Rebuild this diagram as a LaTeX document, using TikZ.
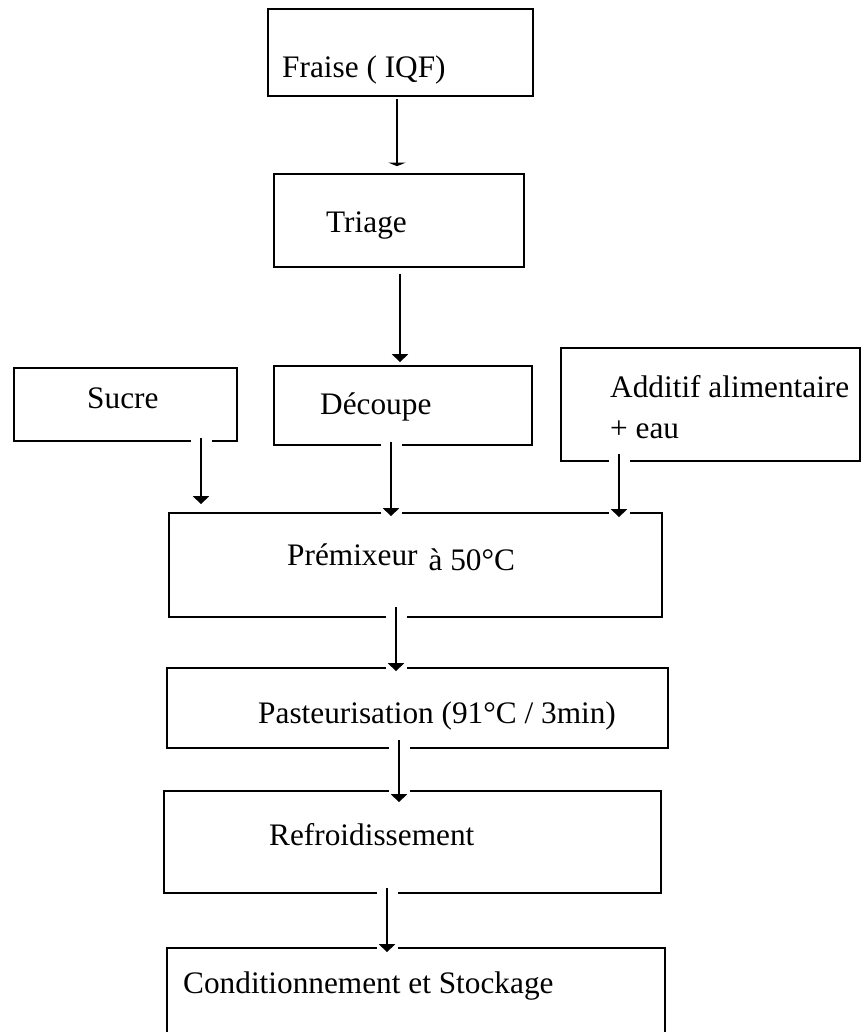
\documentclass[tikz,border=0pt]{standalone}
\usepackage{fontspec}
\setmainfont{Liberation Serif}
\usetikzlibrary{arrows.meta,calc}
\begin{document}
\begin{tikzpicture}[x=1pt,y=-1pt,
  box/.style={draw=black, line width=1.7pt, inner sep=0pt},
  txt/.style={inner sep=0pt, anchor=base west, font=\fontsize{31.3pt}{38pt}\selectfont},
  conn/.style={line width=1.7pt, -{Triangle[width=16pt,length=8pt]},
    preaction={draw=white, line width=21pt, -}},
  connbar/.style={line width=1.7pt, -{Triangle[width=17pt,length=3.5pt]}}]
\clip (0,0) rectangle (861,1032);
\fill[white] (0,0) rectangle (861,1032);
% boxes
\node[box, minimum width=265pt, minimum height=87pt]  (fraise)  at (400.5,52.5) {};
\node[box, minimum width=250pt, minimum height=93pt]  (triage)  at (399,220.5) {};
\node[box, minimum width=223pt, minimum height=73pt]  (sucre)   at (125.5,404.5) {};
\node[box, minimum width=258pt, minimum height=79pt]  (decoupe) at (403,405.5) {};
\node[box, minimum width=299pt, minimum height=113pt] (additif) at (710.5,404.5) {};
\node[box, minimum width=493pt, minimum height=104pt] (premix)  at (415.5,565) {};
\node[box, minimum width=501pt, minimum height=80pt]  (pasteur) at (417.5,708) {};
\node[box, minimum width=497pt, minimum height=102pt] (refroid) at (412.5,842) {};
\node[box, minimum width=498pt, minimum height=97pt]  (cond)    at (416,996.5) {};
% texts
\node[txt] (tfraise)  at (282,78)  {Fraise ( IQF)};
\node[txt] (ttriage)  at (326,233) {Triage};
\node[txt] (tsucre)   at (87,408)  {Sucre};
\node[txt] (tdecoupe) at (320,414) {Découpe};
\node[txt] (tadd1)    at (610,397) {Additif alimentaire};
\node[txt] (tadd2)    at (610,438) {+ eau};
\node[txt] (tpremix)  at (287,565) {Prémixeur\hspace{11pt}\raisebox{-5pt}{à 50°C}};
\node[txt] (tpasteur) at (258,723) {Pasteurisation (91°C / 3min)};
\node[txt] (trefroid) at (269,845) {Refroidissement};
\node[txt] (tcond)    at (183,993) {Conditionnement et Stockage};
% connectors
\draw[connbar] ($(fraise.south)+(-3.5,2)$) coordinate (s1) -- ($(s1 |- triage.north)+(0,-7)$);
\draw[conn] ($(triage.south)+(1,6)$) coordinate (s2) -- ($(s2 |- decoupe.north)+(0,-3)$);
\draw[conn] ($(sucre.south)+(75.5,-4)$) coordinate (s3) -- ($(s3 |- premix.north)+(0,-8)$);
\draw[conn] ($(decoupe.south)+(-12,-4)$) coordinate (s4) -- ($(s4 |- premix.north)+(0,4)$);
\draw[conn] ($(additif.south)+(-91.5,-8)$) coordinate (s5) -- ($(s5 |- premix.north)+(0,5)$);
\draw[conn] ($(premix.south)+(-19.5,-11)$) coordinate (s6) -- ($(s6 |- pasteur.north)+(0,4)$);
\draw[conn] ($(pasteur.south)+(-18.5,-9)$) coordinate (s7) -- ($(s7 |- refroid.north)+(0,12)$);
\draw[conn] ($(refroid.south)+(-25.5,-6)$) coordinate (s8) -- ($(s8 |- cond.north)+(0,5)$);
\end{tikzpicture}
\end{document}
